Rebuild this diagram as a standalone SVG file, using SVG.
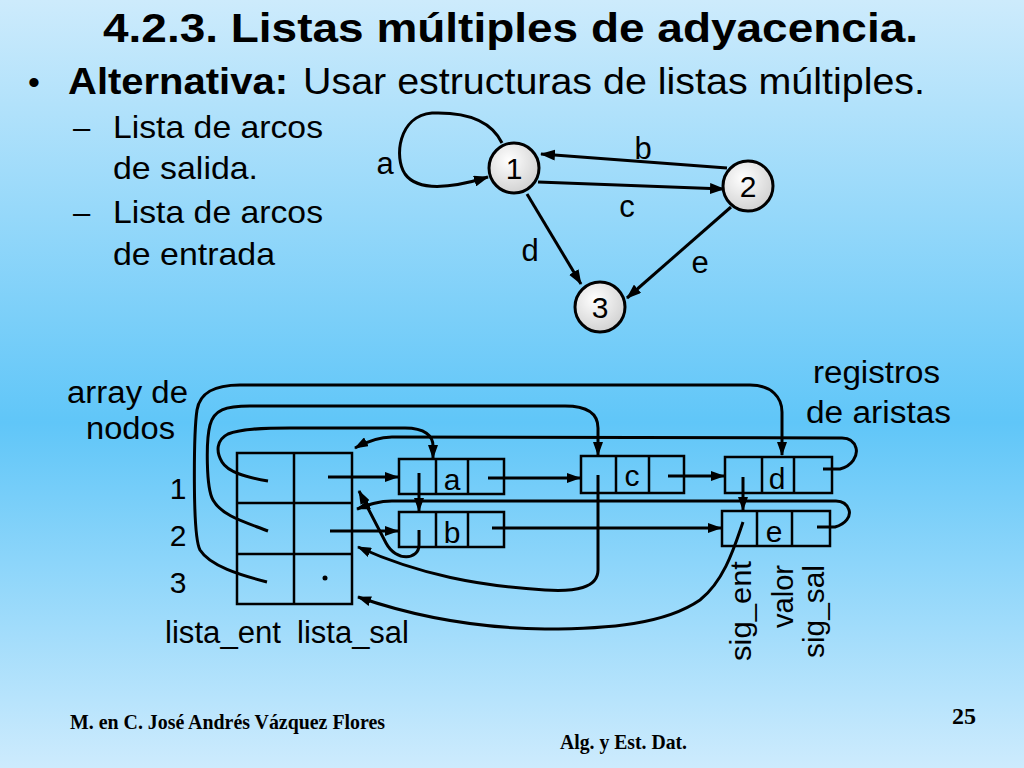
<svg xmlns="http://www.w3.org/2000/svg" width="1024" height="768" viewBox="0 0 1024 768">
<defs>
<linearGradient id="bg" x1="0" y1="0" x2="0" y2="1">
<stop offset="0" stop-color="#cdebfc"/>
<stop offset="0.55" stop-color="#60c6f8"/>
<stop offset="1" stop-color="#cdebfd"/>
</linearGradient>
<radialGradient id="nodefill" cx="0.4" cy="0.35" r="0.7">
<stop offset="0" stop-color="#ffffff"/>
<stop offset="1" stop-color="#cfcfcf"/>
</radialGradient>
<marker id="arr" markerUnits="userSpaceOnUse" markerWidth="15" markerHeight="11" refX="14" refY="5.5" orient="auto" viewBox="0 0 15 11">
<path d="M0,0 L15,5.5 L0,11 z" fill="#000"/>
</marker>
<marker id="arrs" markerUnits="userSpaceOnUse" markerWidth="14" markerHeight="10" refX="13" refY="5" orient="auto" viewBox="0 0 14 10">
<path d="M0,0 L14,5 L0,10 z" fill="#000"/>
</marker>
</defs>
<style>
.t{font-family:"Liberation Sans",Arial,sans-serif;fill:#000}
.b{font-weight:bold}
.s{font-family:"Liberation Serif","Times New Roman",serif;font-weight:bold;fill:#000}
.ea{fill:none;stroke:#000;stroke-width:3;marker-end:url(#arr)}
.la{fill:none;stroke:#000;stroke-width:3;marker-end:url(#arrs)}
.box{fill:none;stroke:#000;stroke-width:2.5}
.node{fill:url(#nodefill);stroke:#000;stroke-width:3}
</style>
<rect x="0" y="0" width="1024" height="768" fill="url(#bg)"/>

<g id="header">
<text class="t b" x="103" y="42" font-size="41" textLength="815" lengthAdjust="spacingAndGlyphs">4.2.3. Listas múltiples de adyacencia.</text>
<text class="t" x="28" y="94" font-size="34">•</text>
<text class="t b" x="68" y="94" font-size="36" textLength="220" lengthAdjust="spacingAndGlyphs">Alternativa:</text>
<text class="t" x="303" y="94" font-size="36" textLength="622" lengthAdjust="spacingAndGlyphs">Usar estructuras de listas múltiples.</text>
<text class="t" x="73" y="138" font-size="31">–</text>
<text class="t" x="113" y="138" font-size="32" textLength="210" lengthAdjust="spacingAndGlyphs">Lista de arcos</text>
<text class="t" x="113" y="179" font-size="32" textLength="145" lengthAdjust="spacingAndGlyphs">de salida.</text>
<text class="t" x="73" y="223" font-size="31">–</text>
<text class="t" x="113" y="223" font-size="32" textLength="210" lengthAdjust="spacingAndGlyphs">Lista de arcos</text>
<text class="t" x="113" y="265" font-size="32" textLength="162" lengthAdjust="spacingAndGlyphs">de entrada</text>
</g>

<g id="graph-edges">
<path class="ea" d="M502,143 C490,118 460,112 432,113 C398,116 394,158 405,174 C418,192 452,188 488,177"/>
<path class="ea" d="M727,168 L541,154"/>
<path class="ea" d="M538,182 L724,189"/>
<path class="ea" d="M527,194 L581,284"/>
<path class="ea" d="M731,207 L627,298"/>
<text class="t" x="385" y="174" font-size="31" text-anchor="middle">a</text>
<text class="t" x="643" y="159" font-size="31" text-anchor="middle">b</text>
<text class="t" x="627" y="217" font-size="31" text-anchor="middle">c</text>
<text class="t" x="530" y="261" font-size="31" text-anchor="middle">d</text>
<text class="t" x="700" y="273" font-size="31" text-anchor="middle">e</text>
</g>
<g id="gnode1"><circle class="node" cx="514" cy="168" r="25"/><text class="t" x="514" y="179" font-size="30" text-anchor="middle">1</text></g>
<g id="gnode2"><circle class="node" cx="748" cy="186" r="25"/><text class="t" x="748" y="197" font-size="30" text-anchor="middle">2</text></g>
<g id="gnode3"><circle class="node" cx="600" cy="307" r="25"/><text class="t" x="600" y="318" font-size="30" text-anchor="middle">3</text></g>

<g id="labels">
<text class="t" x="67" y="403" font-size="31" textLength="121" lengthAdjust="spacingAndGlyphs">array de</text>
<text class="t" x="86" y="439" font-size="31" textLength="89" lengthAdjust="spacingAndGlyphs">nodos</text>
<text class="t" x="813" y="383" font-size="31" textLength="127" lengthAdjust="spacingAndGlyphs">registros</text>
<text class="t" x="806" y="423" font-size="31" textLength="145" lengthAdjust="spacingAndGlyphs">de aristas</text>
<text class="t" x="165" y="643" font-size="31" textLength="116" lengthAdjust="spacingAndGlyphs">lista_ent</text>
<text class="t" x="297" y="643" font-size="31" textLength="112" lengthAdjust="spacingAndGlyphs">lista_sal</text>
<text class="t" x="178" y="499" font-size="30" text-anchor="middle">1</text>
<text class="t" x="178" y="546" font-size="30" text-anchor="middle">2</text>
<text class="t" x="178" y="593" font-size="30" text-anchor="middle">3</text>
<text class="t" font-size="30" transform="translate(751,661) rotate(-90)" textLength="100" lengthAdjust="spacingAndGlyphs">sig_ent</text>
<text class="t" font-size="30" transform="translate(793,628) rotate(-90)" textLength="63" lengthAdjust="spacingAndGlyphs">valor</text>
<text class="t" font-size="30" transform="translate(824,658) rotate(-90)" textLength="93" lengthAdjust="spacingAndGlyphs">sig_sal</text>
</g>

<g id="array">
<rect class="box" x="237" y="453" width="115" height="151"/>
<line class="box" x1="294" y1="453" x2="294" y2="604"/>
<line class="box" x1="237" y1="503" x2="352" y2="503"/>
<line class="box" x1="237" y1="554" x2="352" y2="554"/>
<circle cx="325" cy="578" r="2.5" fill="#000"/>
</g>

<g id="rec-a">
<rect class="box" x="399" y="459" width="105" height="35"/>
<line class="box" x1="436" y1="459" x2="436" y2="494"/>
<line class="box" x1="468" y1="459" x2="468" y2="494"/>
<text class="t" x="452" y="490" font-size="30" text-anchor="middle">a</text>
</g>
<g id="rec-b">
<rect class="box" x="399" y="512" width="105" height="35"/>
<line class="box" x1="436" y1="512" x2="436" y2="547"/>
<line class="box" x1="468" y1="512" x2="468" y2="547"/>
<text class="t" x="452" y="543" font-size="30" text-anchor="middle">b</text>
</g>
<g id="rec-c">
<rect class="box" x="581" y="456" width="103" height="37"/>
<line class="box" x1="616" y1="456" x2="616" y2="493"/>
<line class="box" x1="649" y1="456" x2="649" y2="493"/>
<text class="t" x="632" y="486" font-size="30" text-anchor="middle">c</text>
</g>
<g id="rec-d">
<rect class="box" x="725" y="457" width="107" height="36"/>
<line class="box" x1="762" y1="457" x2="762" y2="493"/>
<line class="box" x1="794" y1="457" x2="794" y2="493"/>
<text class="t" x="777" y="489" font-size="30" text-anchor="middle">d</text>
</g>
<g id="rec-e">
<rect class="box" x="722" y="511" width="108" height="35"/>
<line class="box" x1="757" y1="511" x2="757" y2="546"/>
<line class="box" x1="792" y1="511" x2="792" y2="546"/>
<text class="t" x="774" y="542" font-size="30" text-anchor="middle">e</text>
</g>

<g id="connectors">
<path class="la" d="M328,477 L398,477"/>
<path class="la" d="M330,531 L398,531"/>
<path class="la" d="M488,478 L580,478"/>
<path class="la" d="M668,476 L724,476"/>
<path class="la" d="M492,528 L721,528"/>
<path class="la" d="M419,473 L419,511"/>
<path class="la" d="M743,477 L743,510"/>
<path class="la" d="M268,481 C245,477 228,472 222,462 C216,452 216,440 228,434 C240,429 260,428 290,428 L405,428 C425,428 433,436 433,446 L433,458"/>
<path class="la" d="M268,531 C245,522 222,516 213,500 C206,488 206,440 210,425 C214,410 225,406 250,406 L565,406 C590,406 598,416 598,428 L598,455"/>
<path class="la" d="M267,582 C240,575 210,566 200,550 C192,535 194,430 197,410 C200,392 215,385 240,385 L750,385 C772,385 782,398 782,412 L782,455"/>
<path class="la" d="M823,469 L840,469 C852,466 858,456 856,448 C854,441 850,438 842,438 L392,437 C378,437 366,442 355,448"/>
<path class="la" d="M817,527 L835,527 C846,524 851,516 849,510 C847,504 843,501 836,501 L392,501 C378,501 368,505 357,509"/>
<path class="la" d="M419,530 L419,545 C419,560 396,562 386,543 L359,491"/>
<path class="la" d="M598,475 L598,570 C598,588 575,592 545,590 C480,586 420,575 358,547"/>
<path class="la" d="M743,522 C735,545 725,580 700,600 C665,624 610,629 545,629 C470,628 410,615 358,597"/>
</g>

<g id="footer">
<text class="s" x="70" y="729" font-size="21" textLength="315" lengthAdjust="spacingAndGlyphs">M. en C. José Andrés Vázquez Flores</text>
<text class="s" x="560" y="749" font-size="21" textLength="127" lengthAdjust="spacingAndGlyphs">Alg. y Est. Dat.</text>
<text class="s" x="952" y="724" font-size="24" textLength="24" lengthAdjust="spacingAndGlyphs">25</text>
</g>
</svg>
